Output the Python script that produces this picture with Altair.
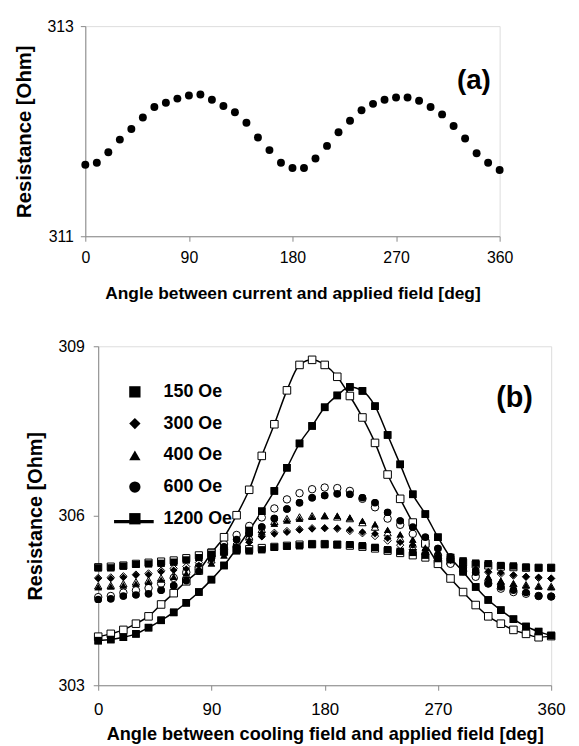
import altair as alt
import pandas as pd

FONT = "Liberation Sans"

angles = list(range(0, 361, 10))

# panel (a)
res_a = [311.68, 311.70, 311.80, 311.92, 312.02, 312.13, 312.23, 312.27, 312.31, 312.34,
         312.35, 312.30, 312.24, 312.18, 312.08, 311.94, 311.82, 311.70, 311.65, 311.65,
         311.74, 311.86, 311.99, 312.10, 312.20, 312.26, 312.30, 312.32, 312.32, 312.29,
         312.23, 312.16, 312.05, 311.93, 311.79, 311.70, 311.63]

# panel (b)
b150_filled = [305.08, 305.08, 305.11, 305.14, 305.15, 305.16, 305.18, 305.22, 305.26, 305.32,
               305.36, 305.38, 305.38, 305.40, 305.44, 305.46, 305.47, 305.49, 305.49, 305.49,
               305.49, 305.47, 305.44, 305.40, 305.37, 305.35, 305.30, 305.24, 305.22, 305.20,
               305.16, 305.15, 305.12, 305.11, 305.09, 305.08, 305.08]
b150_open = [305.09, 305.10, 305.12, 305.15, 305.17, 305.19, 305.21, 305.25, 305.30, 305.35,
             305.38, 305.40, 305.41, 305.43, 305.45, 305.47, 305.49, 305.50, 305.50, 305.49,
             305.47, 305.45, 305.42, 305.38, 305.34, 305.30, 305.26, 305.22, 305.19, 305.17,
             305.14, 305.12, 305.10, 305.09, 305.08, 305.08, 305.08]
b300_filled = [304.89, 304.89, 304.91, 304.95, 304.96, 305.01, 305.04, 305.06, 305.12, 305.22,
               305.34, 305.46, 305.53, 305.63, 305.68, 305.71, 305.75, 305.77, 305.78, 305.78,
               305.75, 305.71, 305.68, 305.60, 305.53, 305.48, 305.39, 305.30, 305.21, 305.12,
               305.06, 305.01, 304.99, 304.95, 304.92, 304.91, 304.89]
b300_open = [304.90, 304.91, 304.93, 304.96, 304.98, 305.03, 305.07, 305.10, 305.17, 305.28,
             305.40, 305.50, 305.57, 305.64, 305.70, 305.73, 305.76, 305.78, 305.78, 305.77,
             305.73, 305.69, 305.64, 305.56, 305.48, 305.40, 305.32, 305.24, 305.16, 305.09,
             305.04, 305.00, 304.97, 304.94, 304.92, 304.90, 304.89]
b400_filled = [304.74, 304.75, 304.77, 304.80, 304.83, 304.87, 304.92, 304.98, 305.05, 305.16,
               305.30, 305.44, 305.58, 305.72, 305.86, 305.92, 305.95, 305.98, 306.00, 306.00,
               305.97, 305.91, 305.85, 305.75, 305.67, 305.58, 305.44, 305.37, 305.27, 305.12,
               305.04, 304.92, 304.85, 304.80, 304.77, 304.75, 304.74]
b400_open = [304.76, 304.77, 304.80, 304.83, 304.86, 304.90, 304.95, 305.02, 305.10, 305.22,
             305.36, 305.50, 305.64, 305.76, 305.90, 305.95, 305.98, 306.00, 306.00, 305.98,
             305.95, 305.88, 305.80, 305.70, 305.60, 305.50, 305.38, 305.30, 305.20, 305.08,
             305.00, 304.90, 304.84, 304.80, 304.78, 304.76, 304.75]
b600_filled = [304.52, 304.53, 304.58, 304.60, 304.62, 304.68, 304.76, 304.85, 305.02, 305.25,
               305.45, 305.58, 305.68, 305.80, 305.95, 306.12, 306.23, 306.32, 306.36, 306.39,
               306.38, 306.32, 306.23, 306.06, 305.91, 305.80, 305.62, 305.42, 305.27, 305.10,
               305.00, 304.80, 304.74, 304.68, 304.64, 304.58, 304.57]
b600_open = [304.56, 304.58, 304.64, 304.68, 304.72, 304.80, 304.90, 305.00, 305.10, 305.28,
             305.50, 305.66, 305.82, 305.97, 306.13, 306.29, 306.40, 306.47, 306.50, 306.49,
             306.44, 306.30, 306.15, 305.95, 305.84, 305.68, 305.50, 305.30, 305.15, 305.02,
             304.92, 304.80, 304.71, 304.65, 304.62, 304.58, 304.57]
b1200_filled = [303.79, 303.81, 303.85, 303.91, 304.02, 304.15, 304.29, 304.46, 304.65, 304.87,
                305.12, 305.42, 305.74, 306.08, 306.44, 306.85, 307.28, 307.59, 307.92, 308.13,
                308.28, 308.21, 307.94, 307.43, 306.91, 306.38, 306.03, 305.62, 305.26, 305.01,
                304.74, 304.51, 304.33, 304.17, 304.04, 303.95, 303.88]
b1200_open = [303.86, 303.91, 303.98, 304.09, 304.22, 304.43, 304.63, 304.84, 305.03, 305.34,
              305.62, 306.01, 306.46, 307.06, 307.62, 308.22, 308.67, 308.76, 308.67, 308.46,
              308.12, 307.74, 307.29, 306.73, 306.30, 305.88, 305.51, 305.15, 304.89, 304.65,
              304.42, 304.22, 304.09, 303.98, 303.91, 303.85, 303.87]

series_names = ["150 Oe", "300 Oe", "400 Oe", "600 Oe", "1200 Oe"]
series_shapes = ["square", "diamond", "triangle-up", "circle", "square"]
series_sizes = [52, 58, 48, 32, 56]
x_ticks = [0, 90, 180, 270, 360]
ya_ticks = [311, 313]
yb_ticks = [303, 306, 309]
panel_labels = ["(a)", "(b)"]
title_xa = "Angle between current and applied field [deg]"
title_xb = "Angle between cooling field and applied field [deg]"
title_y = "Resistance [Ohm]"

df_a = pd.DataFrame({"angle": angles, "R": res_a})

rows = []
pairs = [(b150_filled, b150_open), (b300_filled, b300_open), (b400_filled, b400_open),
         (b600_filled, b600_open), (b1200_filled, b1200_open)]
for name, (fl, op) in zip(series_names, pairs):
    for ang, vf, vo in zip(angles, fl, op):
        rows.append({"angle": ang, "R": vf, "series": name, "sz": name, "kind": "filled"})
        rows.append({"angle": ang, "R": vo, "series": name, "sz": name, "kind": "open"})
df_b = pd.DataFrame(rows)

# ---------- panel (a)
xa = alt.X("angle:Q", scale=alt.Scale(domain=[0, 360], nice=False),
           axis=alt.Axis(values=x_ticks, title=title_xa, labelPadding=8, titlePadding=20,
                         titleFontSize=17.5, labelFontSize=16, labelFlush=False, grid=False))
ya = alt.Y("R:Q", scale=alt.Scale(domain=[311, 313], nice=False, zero=False),
           axis=alt.Axis(values=ya_ticks, title=title_y, labelPadding=7, titlePadding=13,
                         titleFontSize=20.5, labelFontSize=16, format="d", grid=False))
pts_a = alt.Chart(df_a).mark_point(filled=True, shape="circle", size=64, color="black",
                                   opacity=1).encode(x=xa, y=ya)
lab_a = alt.Chart(pd.DataFrame({"t": [panel_labels[0]]})).mark_text(
    font=FONT, fontSize=28, fontWeight="bold", align="center", baseline="middle",
    color="black").encode(x=alt.value(392), y=alt.value(55), text="t:N")
panel_a = alt.layer(pts_a, lab_a).properties(width=418, height=212)

# ---------- panel (b)
xb = alt.X("angle:Q", scale=alt.Scale(domain=[0, 360], nice=False),
           axis=alt.Axis(values=x_ticks, title=title_xb, labelPadding=11, titlePadding=9,
                         titleFontSize=18.3, labelFontSize=17, labelFlush=False, grid=False))
yb = alt.Y("R:Q", scale=alt.Scale(domain=[303, 309], nice=False, zero=False),
           axis=alt.Axis(values=yb_ticks, title=title_y, labelPadding=9, titlePadding=12,
                         titleFontSize=20, labelFontSize=16, format="d", grid=False))
shape_enc = alt.Shape("series:N", scale=alt.Scale(domain=series_names, range=series_shapes),
                      legend=alt.Legend(orient="none", legendX=28, legendY=37, title=None,
                                        labelFont=FONT, labelFontSize=18, labelFontWeight="bold",
                                        labelColor="black", symbolSize=130,
                                        symbolFillColor="black", symbolStrokeColor="black",
                                        symbolStrokeWidth=1, rowPadding=14, labelOffset=20,
                                        padding=0))
size_enc = alt.Size("sz:N", scale=alt.Scale(domain=series_names, range=series_sizes),
                    legend=None)

lines_b = alt.Chart(df_b).transform_filter(alt.datum.series == "1200 Oe").transform_calculate(
    curve="'1200 Oe'").mark_line(strokeWidth=1.5, interpolate="monotone").encode(
    x=xb, y=yb, detail="kind:N",
    stroke=alt.Stroke("curve:N", scale=alt.Scale(domain=["1200 Oe"], range=["black"]),
                      legend=alt.Legend(orient="none", legendX=14, legendY=155, title=None,
                                        symbolType="stroke", symbolSize=1600,
                                        symbolStrokeWidth=3.3, symbolStrokeColor="black",
                                        labelColor="transparent", labelFontSize=18,
                                        padding=0)))
filled_b = alt.Chart(df_b).transform_filter(alt.datum.kind == "filled").mark_point(
    filled=True, color="black", opacity=1).encode(x=xb, y=yb, shape=shape_enc, size=size_enc)
open_b = alt.Chart(df_b).transform_filter(alt.datum.kind == "open").mark_point(
    filled=True, fill="white", stroke="black", strokeWidth=1, opacity=1).encode(
    x=xb, y=yb, shape=shape_enc, size=size_enc)
lab_b = alt.Chart(pd.DataFrame({"t": [panel_labels[1]]})).mark_text(
    font=FONT, fontSize=29, fontWeight="bold", align="center", baseline="middle",
    color="black").encode(x=alt.value(420), y=alt.value(52), text="t:N")
# filled layer comes first (it sets the black legend symbols) and is drawn again
# after the open markers so that the filled markers stay on top, as in the reference
panel_b = alt.layer(lines_b, filled_b, open_b, filled_b, lab_b).properties(width=457, height=342)


# blank left spacers: shift panel (b) right of panel (a) as in the reference
def spacer(w):
    return alt.Chart(pd.DataFrame({"t": [0]})).mark_rule(
        strokeWidth=0, strokeOpacity=0).encode(
        x=alt.value(0), x2=alt.value(w), y=alt.value(0)).properties(
        width=w, height=1, view=alt.ViewBackground(stroke="transparent"))


row_a = alt.hconcat(spacer(1), panel_a, spacing=0)
row_b = alt.hconcat(spacer(13), panel_b, spacing=0).resolve_legend(
    shape="independent", stroke="independent")

chart = alt.vconcat(row_a, row_b, spacing=35).resolve_legend(
    shape="independent", stroke="independent").properties(
    padding={"left": 2, "top": 6, "right": 5, "bottom": 0}
).configure_view(stroke="black", strokeWidth=1.5).configure_axis(
    domainColor="black", domainWidth=2, tickColor="black", tickWidth=2, tickSize=5,
    labelFont=FONT, labelFontWeight="bold", labelColor="black",
    titleFont=FONT, titleFontWeight="bold", titleColor="black", grid=False
).configure(background="white")

chart.save("out.html", embed_options={"renderer": "svg", "actions": False})
